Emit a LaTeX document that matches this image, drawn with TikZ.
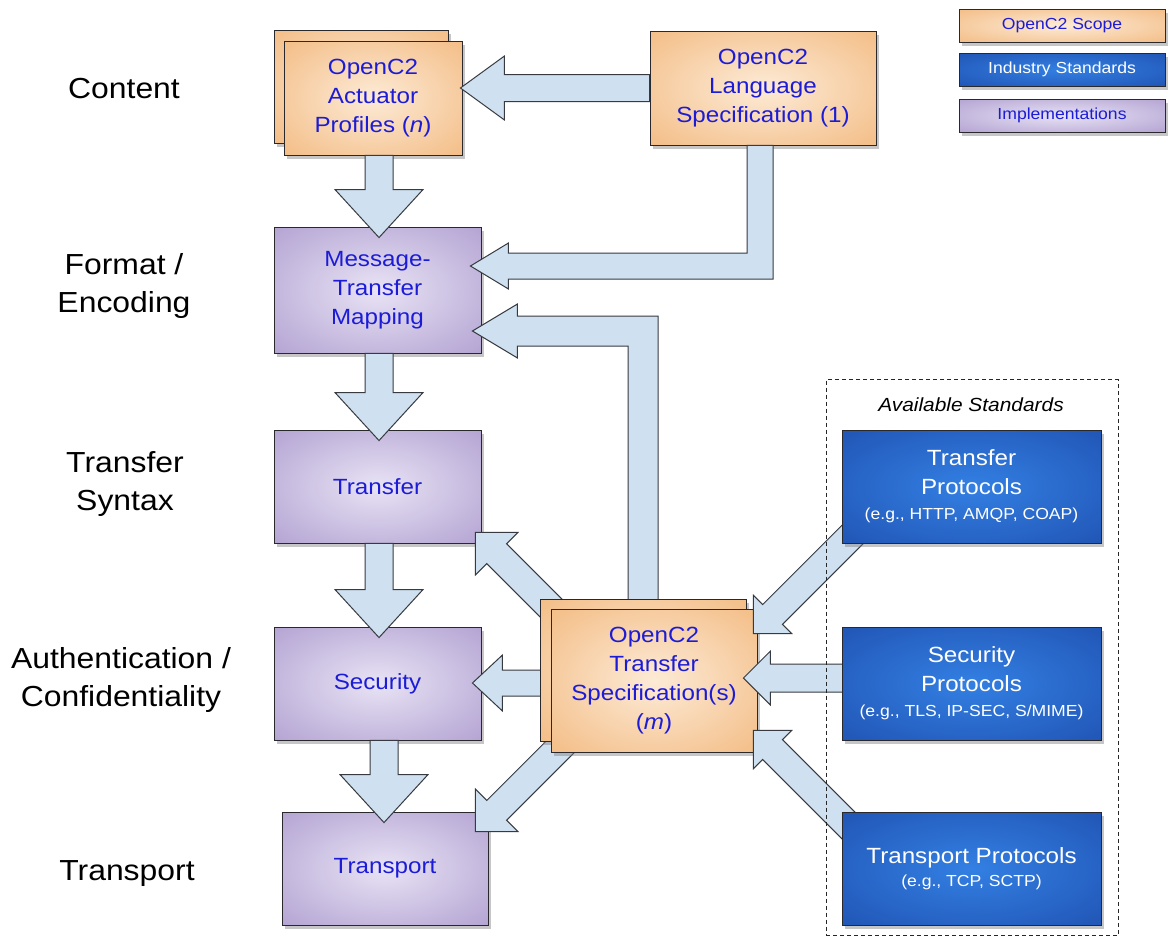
\documentclass[tikz,border=0pt]{standalone}
\usepackage{fontspec}
\setmainfont{Liberation Sans}[FakeStretch=1.1]
\usetikzlibrary{calc,shadows}
\definecolor{txtblue}{RGB}{28,28,215}
\definecolor{arrfill}{RGB}{207,224,240}
\definecolor{arrline}{RGB}{55,58,64}
\definecolor{boxline}{RGB}{40,40,45}
\pgfdeclareradialshading{orsh}{\pgfpoint{0bp}{0bp}}{rgb(0bp)=(0.99,0.92,0.84); rgb(50bp)=(0.94,0.67,0.40); rgb(71bp)=(0.92,0.62,0.35)}
\pgfdeclareradialshading{push}{\pgfpoint{0bp}{0bp}}{rgb(0bp)=(0.91,0.89,0.96); rgb(50bp)=(0.62,0.54,0.77); rgb(71bp)=(0.56,0.48,0.72)}
\pgfdeclareradialshading{blsh}{\pgfpoint{0bp}{0bp}}{rgb(0bp)=(0.20,0.50,0.89); rgb(50bp)=(0.10,0.27,0.64); rgb(71bp)=(0.08,0.22,0.56)}
\pgfdeclarelayer{bk}
\pgfdeclarelayer{top}
\pgfsetlayers{bk,main,top}
\tikzset{
  box/.style={draw=boxline, line width=0.9pt, inner sep=0pt, align=center,
    font=\fontsize{22}{29}\selectfont,
    drop shadow={shadow xshift=3pt, shadow yshift=-4pt, opacity=0.45}},
  orbox/.style={box, shading=orsh, text=txtblue},
  pubox/.style={box, shading=push, text=txtblue},
  blbox/.style={box, shading=blsh, text=white},
  lbl/.style={font=\fontsize{29}{38}\selectfont, align=center, inner sep=0pt},
  arr/.style={fill=arrfill, draw=arrline, line width=1pt, line join=miter},
}
% straight block arrow: tail, tip, shaft half width, head half width, head length
\newcommand{\barrow}[5]{%
  \coordinate (hb) at ($(#2)!#5!(#1)$);
  \draw[arr] ($(#1)!#3!90:(#2)$) -- ($(hb)!#3!90:(#2)$) -- ($(hb)!#4!90:(#2)$) -- (#2)
    -- ($(hb)!#4!-90:(#2)$) -- ($(hb)!#3!-90:(#2)$) -- ($(#1)!#3!-90:(#2)$) -- cycle;}
\begin{document}
\begin{tikzpicture}[x=1pt,y=-1pt]
\useasboundingbox (0,0) rectangle (1175,937);
% row labels
\node[lbl] (lcontent) at (124,89) {Content};
\node[lbl] (lformat) at (124,286) {Format /\\Encoding};
\node[lbl] (lsyntax) at (125,484) {Transfer\\Syntax};
\node[lbl] (lauth) at (121,680) {Authentication /\\Confidentiality};
\node[lbl] (ltransport) at (127,874) {Transport};
% legend
\node[orbox, minimum width=206pt, minimum height=33pt, font=\fontsize{16}{19}\selectfont] (lgscope) at (1062,25.5) {OpenC2 Scope};
\node[blbox, minimum width=206pt, minimum height=33pt, font=\fontsize{16}{19}\selectfont] (lgind) at (1062,69.5) {Industry Standards};
\node[pubox, minimum width=206pt, minimum height=33pt, font=\fontsize{16}{19}\selectfont] (lgimpl) at (1062,115.5) {Implementations};
% language spec
\node[orbox, minimum width=226pt, minimum height=114pt] (lang) at (763,88) {OpenC2\\Language\\Specification (1)};
% left column
\begin{pgfonlayer}{bk}
\node[orbox, minimum width=174pt, minimum height=113pt] (actB) at (361,86.5) {};
\node[orbox, minimum width=178pt, minimum height=114pt] (act) at (373,98) {OpenC2\\Actuator\\Profiles (\textit{n})};
\node[pubox, minimum width=207pt, minimum height=126pt] (mtm) at (377.5,290) {Message-\\Transfer\\Mapping};
\node[pubox, minimum width=207pt, minimum height=113pt] (trf) at (377.5,486.5) {Transfer};
\node[pubox, minimum width=207pt, minimum height=113pt] (sec) at (377.5,683.5) {Security};
\node[pubox, minimum width=206pt, minimum height=113pt] (tpt) at (385,868.5) {Transport};
\end{pgfonlayer}
% transfer spec
\node[orbox, minimum width=206pt, minimum height=142pt] (specB) at (643,670) {};
\node[orbox, minimum width=206pt, minimum height=143pt] (spec) at (654,680.5) {OpenC2\\Transfer\\Specification(s)\\(\textit{m})};
% available standards
\begin{pgfonlayer}{top}
\node[draw=black!85, dash pattern=on 4pt off 3pt, line width=0.9pt, minimum width=292pt, minimum height=556pt, inner sep=0pt] (std) at (972,657.5) {};
\node[font=\fontsize{19}{22}\selectfont\itshape, inner sep=0pt] (avail) at (971,405) {Available Standards};
\node[blbox, minimum width=259pt, minimum height=113pt] (tp) at (971.5,486.5) {Transfer\\Protocols\\[-4pt]{\fontsize{16}{19}\selectfont (e.g., HTTP, AMQP, COAP)}};
\node[blbox, minimum width=259pt, minimum height=113pt] (sp) at (971.5,683.5) {Security\\Protocols\\[-4pt]{\fontsize{16}{19}\selectfont (e.g., TLS, IP-SEC, S/MIME)}};
\node[blbox, minimum width=259pt, minimum height=113pt] (trp) at (971.5,868.5) {Transport Protocols\\[-6pt]{\fontsize{16}{19}\selectfont (e.g., TCP, SCTP)}};
\end{pgfonlayer}
% arrows leaving the transfer spec (under the spec box)
\begin{pgfonlayer}{bk}
\coordinate (a4t) at ($(specB.north)+(0,6)$);
\coordinate (a4h) at ($(mtm.east)+(-9,41)$);
\coordinate (a4c) at (a4t |- a4h);
\draw[arr] ($(a4t)+(-15,0)$) -- ($(a4c)+(-15,15)$) -- ($(a4h)+(45,15)$) -- ($(a4h)+(45,27)$) -- (a4h)
  -- ($(a4h)+(45,-27)$) -- ($(a4h)+(45,-15)$) -- ($(a4c)+(15,-15)$) -- ($(a4t)+(15,0)$) -- cycle;
\coordinate (a8t) at ($(specB.north west)+(35,33)$);
\coordinate (a8h) at ($(trf.south east)+(-6,-11)$);
\barrow{a8t}{a8h}{14pt}{30pt}{30pt}
\coordinate (a9t) at ($(specB.west)+(10,13)$);
\coordinate (a9h) at ($(sec.east)+(-9,-0.5)$);
\barrow{a9t}{a9h}{13pt}{28pt}{30pt}
\coordinate (a10t) at ($(spec.south west)+(34,-30)$);
\coordinate (a10h) at ($(tpt.north east)+(-13,20)$);
\barrow{a10t}{a10h}{14pt}{30pt}{30pt}
\end{pgfonlayer}
% arrows into the transfer spec
\coordinate (a11t) at ($(tp.south west)+(23,-21)$);
\coordinate (a11h) at ($(spec.north east)+(-4,25)$);
\barrow{a11t}{a11h}{14pt}{27pt}{27pt}
\coordinate (a12t) at ($(sp.west)+(10,-5.5)$);
\coordinate (a12h) at ($(spec.east)+(-14,-2.5)$);
\barrow{a12t}{a12h}{14pt}{27pt}{27pt}
\coordinate (a13t) at ($(trp.north west)+(23,30)$);
\coordinate (a13h) at ($(spec.south east)+(-4,-22)$);
\barrow{a13t}{a13h}{14pt}{27pt}{27pt}
% other arrows
\coordinate (a1t) at (lang.west);
\coordinate (a1h) at ($(act.east)+(-2,-10)$);
\barrow{a1t}{a1h}{13.5pt}{32pt}{44pt}
\coordinate (a2t) at ($(act.south)+(6,0)$);
\coordinate (a2h) at ($(mtm.north)+(1.5,11)$);
\barrow{a2t}{a2h}{14pt}{44pt}{48pt}
\coordinate (a5t) at ($(mtm.south)+(1.5,0)$);
\coordinate (a5h) at ($(trf.north)+(1.5,11)$);
\barrow{a5t}{a5h}{14pt}{44pt}{48pt}
\coordinate (a6t) at ($(trf.south)+(1.5,0)$);
\coordinate (a6h) at ($(sec.north)+(1.5,11)$);
\barrow{a6t}{a6h}{14pt}{44pt}{48pt}
\coordinate (a7t) at ($(sec.south)+(6.5,0)$);
\coordinate (a7h) at ($(tpt.north)+(-1,11)$);
\barrow{a7t}{a7h}{14pt}{44pt}{48pt}
\coordinate (a3t) at ($(lang.south)+(-3,0)$);
\coordinate (a3h) at ($(mtm.east)+(-11,-24)$);
\coordinate (a3c) at (a3t |- a3h);
\draw[arr] ($(a3t)+(-13,0)$) -- ($(a3c)+(-13,-13)$) -- ($(a3h)+(38,-13)$) -- ($(a3h)+(38,-23)$) -- (a3h)
  -- ($(a3h)+(38,23)$) -- ($(a3h)+(38,13)$) -- ($(a3c)+(13,13)$) -- ($(a3t)+(13,0)$) -- cycle;
\end{tikzpicture}
\end{document}
